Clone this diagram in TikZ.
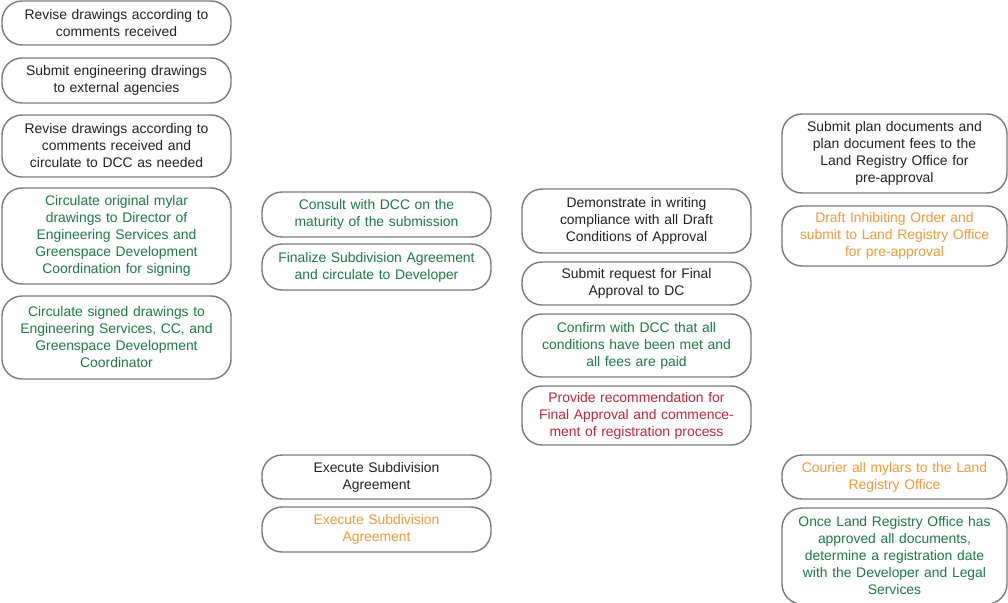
\documentclass[tikz,border=0pt]{standalone}
\usepackage{fontspec}
\setmainfont{Liberation Sans}
\definecolor{bordergray}{HTML}{7A7A7A}
\definecolor{txtblack}{HTML}{222222}
\definecolor{txtgreen}{HTML}{1E7A44}
\definecolor{txtorange}{HTML}{F09A3A}
\definecolor{txtred}{HTML}{C3243A}
\tikzset{
  card/.style={draw=bordergray, line width=1.4pt, rounded corners=20pt, fill=white,
    minimum width=229pt, text width=224pt, align=center, inner sep=0pt,
    font=\fontsize{13.9}{17}\selectfont, text=txtblack},
  cardR/.style={card, minimum width=225pt},
  gtxt/.style={text=txtgreen},
  otxt/.style={text=txtorange},
  rtxt/.style={text=txtred},
}
\begin{document}
\begin{tikzpicture}[x=1pt,y=-1pt]
\useasboundingbox (0,0) rectangle (1008,602);
\clip (0,0) rectangle (1008,602);
% column 1
\node[card, minimum height=44pt] (a1) at (116.5,23) {Revise drawings according to\\comments received};
\node[card, minimum height=45pt] (a2) at (116.5,80.5) {Submit engineering drawings\\to external agencies};
\node[card, minimum height=62pt] (a3) at (116.5,146) {Revise drawings according to\\comments received and\\circulate to DCC as needed};
\node[card, gtxt, minimum height=96pt] (a4) at (116.5,236) {Circulate original mylar\\drawings to Director of\\Engineering Services and\\Greenspace Development\\Coordination for signing};
\node[card, gtxt, minimum height=83pt] (a5) at (116.5,337.5) {Circulate signed drawings to\\Engineering Services, CC, and\\Greenspace Development\\Coordinator};
% column 2
\node[card, gtxt, minimum height=45pt] (b1) at (376.5,214.5) {Consult with DCC on the\\maturity of the submission};
\node[card, gtxt, minimum height=46pt] (b2) at (376.5,267) {Finalize Subdivision Agreement\\and circulate to Developer};
\node[card, minimum height=44pt] (b3) at (376.5,477) {Execute Subdivision\\Agreement};
\node[card, otxt, minimum height=45pt] (b4) at (376.5,529.5) {Execute Subdivision\\Agreement};
% column 3
\node[card, minimum height=64pt] (c1) at (636.5,221) {Demonstrate in writing\\compliance with all Draft\\Conditions of Approval};
\node[card, minimum height=43pt] (c2) at (636.5,283.5) {Submit request for Final\\Approval to DC};
\node[card, gtxt, minimum height=63pt] (c3) at (636.5,345.5) {Confirm with DCC that all\\conditions have been met and\\all fees are paid};
\node[card, rtxt, minimum height=59pt] (c4) at (636.5,415.5) {Provide recommendation for\\Final Approval and commence-\\ment of registration process};
% column 4
\node[cardR, minimum height=79pt] (d1) at (894.5,153.5) {Submit plan documents and\\plan document fees to the\\Land Registry Office for\\pre-approval};
\node[cardR, otxt, minimum height=60pt] (d2) at (894.5,236) {Draft Inhibiting Order and\\submit to Land Registry Office\\for pre-approval};
\node[cardR, otxt, minimum height=44pt] (d3) at (894.5,477) {Courier all mylars to the Land\\Registry Office};
\node[cardR, gtxt, minimum height=96pt] (d4) at (894.5,556) {Once Land Registry Office has\\approved all documents,\\determine a registration date\\with the Developer and Legal\\Services};
\end{tikzpicture}
\end{document}
